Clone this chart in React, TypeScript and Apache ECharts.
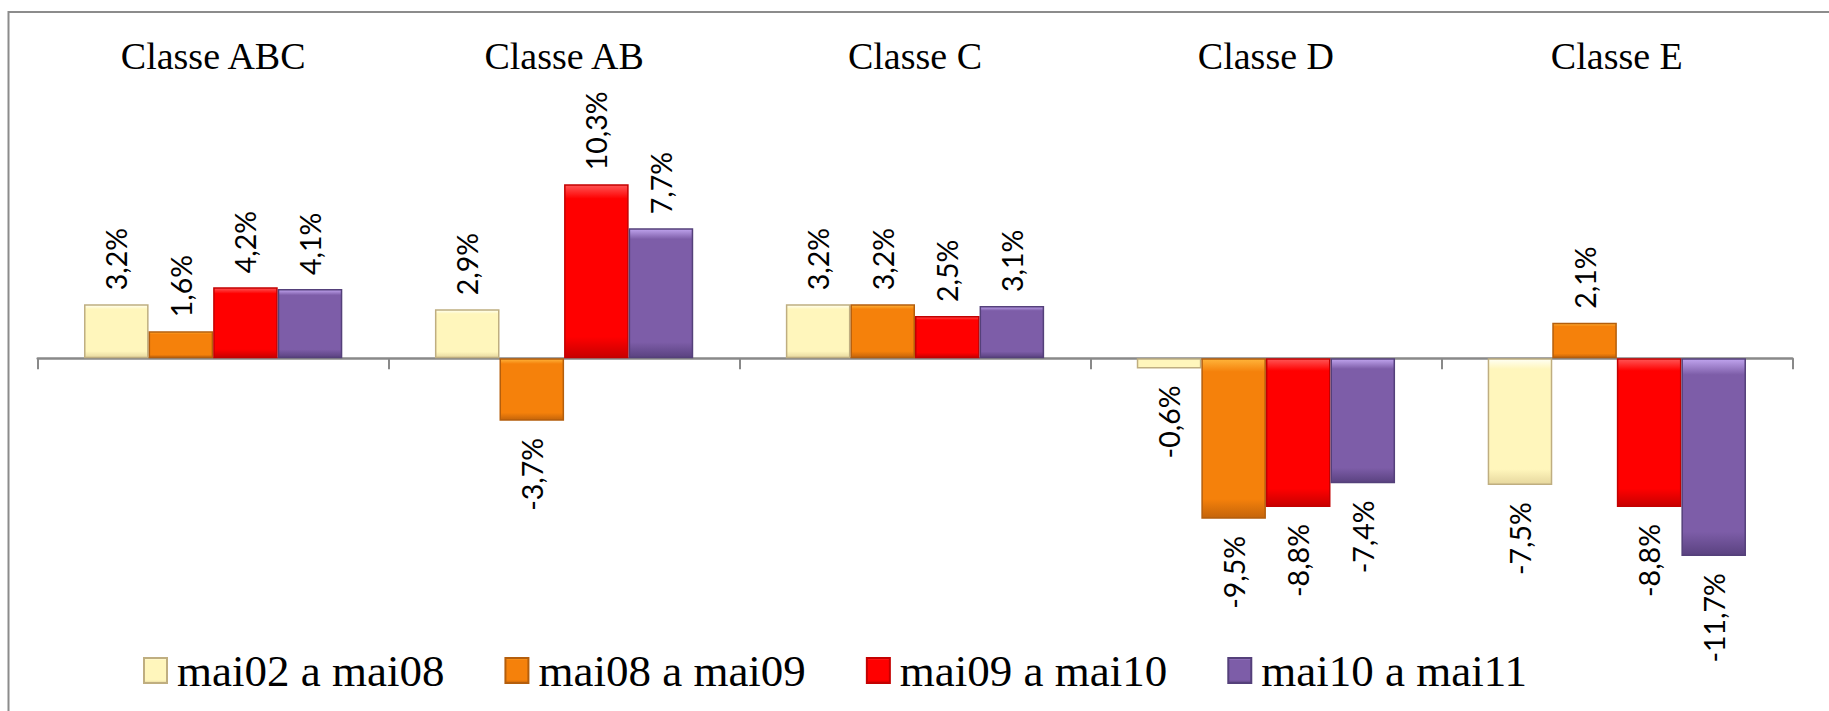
import React, { useEffect, useRef } from "react";
import * as echarts from "echarts";

const categories = ["Classe ABC", "Classe AB", "Classe C", "Classe D", "Classe E"];
const seriesNames = ["mai02 a mai08", "mai08 a mai09", "mai09 a mai10", "mai10 a mai11"];
const mai02a08 = [3.2, 2.9, 3.2, -0.6, -7.5];
const mai08a09 = [1.6, -3.7, 3.2, -9.5, 2.1];
const mai09a10 = [4.2, 10.3, 2.5, -8.8, -8.8];
const mai10a11 = [4.1, 7.7, 3.1, -7.4, -11.7];
const seriesValues = [mai02a08, mai08a09, mai09a10, mai10a11];

const palettes = [
  { hi: "#FFFFF4", base: "#FFF6BC", low: "#E6D79E", border: "#BFAE80" },
  { hi: "#FFB43A", base: "#F5810B", low: "#C4640A", border: "#B45E0C" },
  { hi: "#FF5555", base: "#FF0000", low: "#C80000", border: "#C40000" },
  { hi: "#C0A4EE", base: "#7D5DA8", low: "#5A4280", border: "#54407A" },
];

const fmt = (v: number) => v.toFixed(1).replace(".", ",") + "%";

export default function App() {
  const ref = useRef<HTMLDivElement>(null);
  useEffect(() => {
    if (!ref.current) return;
    const chart = echarts.init(ref.current, undefined, { renderer: "svg" });
    const option: any = {
      animation: false,
      backgroundColor: "#ffffff",
      textStyle: { fontFamily: "Liberation Serif", color: "#000" },
      graphic: [
        {
          type: "rect",
          shape: { x: 8.5, y: 12, width: 1900, height: 800 },
          style: { fill: "transparent", stroke: "#8C8C8C", lineWidth: 2 },
          silent: true,
        },
      ],
      grid: { left: 37.7, right: 36.7, top: 155.5, bottom: 116.1, containLabel: false },
      legend: {
        left: 138,
        top: 643,
        icon: "rect",
        itemWidth: 23,
        itemHeight: 25,
        itemGap: 60,
        data: seriesNames,
        formatter: (name: string) => "{t|" + name + "}",
        textStyle: {
          fontFamily: "Liberation Serif",
          fontSize: 45,
          color: "#000",
          rich: {
            t: {
              fontFamily: "Liberation Serif",
              fontSize: 45,
              color: "#000",
              padding: [0, 0, 0, 5],
            },
          },
        },
      },
      xAxis: [
        {
          type: "category",
          data: categories,
          position: "bottom",
          boundaryGap: true,
          axisLine: { show: true, onZero: true, lineStyle: { color: "#898989", width: 2.5 } },
          axisTick: { show: true, length: 11, lineStyle: { color: "#898989", width: 2 } },
          axisLabel: { show: false },
          splitLine: { show: false },
        },
        {
          type: "category",
          data: categories,
          position: "top",
          boundaryGap: true,
          axisLine: { show: false, onZero: false },
          axisTick: { show: false },
          axisLabel: {
            show: true,
            margin: 100,
            verticalAlign: "middle",
            fontFamily: "Liberation Serif",
            fontSize: 38,
            color: "#000",
          },
          splitLine: { show: false },
        },
      ],
      yAxis: { type: "value", min: -14, max: 12, interval: 2, show: false },
      series: seriesValues.map((vals, i) => {
        const p = palettes[i];
        return {
          name: seriesNames[i],
          type: "bar",
          xAxisIndex: 0,
          barGap: "0%",
          barCategoryGap: "26.4%",
          itemStyle: {
            color: new echarts.graphic.LinearGradient(0, 0, 0, 1, [
              { offset: 0, color: p.hi },
              { offset: 0.08, color: p.base },
              { offset: 0.88, color: p.base },
              { offset: 1, color: p.low },
            ]),
            borderColor: p.border,
            borderWidth: 1.5,
          },
          label: {
            show: true,
            rotate: 90,
            fontFamily: "Lato",
            fontSize: 28.5,
            color: "#000",
            formatter: (d: any) => fmt(d.value),
          },
          data: vals.map((v) => ({
            value: v,
            label:
              v >= 0
                ? { position: "top", align: "left", verticalAlign: "middle", distance: 14 }
                : { position: "bottom", align: "right", verticalAlign: "middle", distance: 17 },
          })),
        };
      }),
    };
    chart.setOption(option);
    return () => chart.dispose();
  }, []);
  return (
    <div
      ref={ref}
      style={{ position: "absolute", left: 0, top: 0, width: 1829, height: 711, background: "#fff" }}
    />
  );
}
